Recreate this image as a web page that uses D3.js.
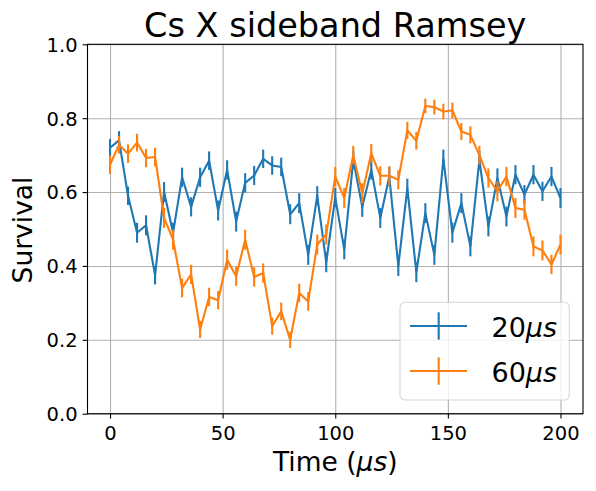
<!DOCTYPE html>
<html>
<head>
<meta charset="utf-8">
<script src="https://cdn.jsdelivr.net/npm/d3@7"></script>
<style>
  body { margin: 0; background: white; }
  text { font-family: "DejaVu Sans", sans-serif; }
</style>
</head>
<body>
<div id="chart"></div>
<script>
// sampling times (us)
let times = [0, 4, 8, 12, 16, 20, 24, 28, 32, 36, 40, 44, 48, 52, 56, 60, 64, 68, 72, 76,
    80, 84, 88, 92, 96, 100, 104, 108, 112, 116, 120, 124, 128, 132, 136, 140, 144, 148,
    152, 156, 160, 164, 168, 172, 176, 180, 184, 188, 192, 196, 200];

let survival_20 = [0.72, 0.74, 0.59, 0.49, 0.51, 0.375, 0.60, 0.49, 0.64, 0.56, 0.64, 0.685,
    0.55, 0.66, 0.52, 0.625, 0.645, 0.69, 0.672, 0.668, 0.54, 0.57, 0.43, 0.59, 0.41, 0.585,
    0.445, 0.687, 0.56, 0.66, 0.53, 0.642, 0.40, 0.61, 0.383, 0.543, 0.43, 0.69, 0.49, 0.57,
    0.453, 0.687, 0.507, 0.638, 0.534, 0.647, 0.593, 0.647, 0.602, 0.642, 0.584];
let error_20 = [0.024, 0.025, 0.025, 0.027, 0.027, 0.025, 0.027, 0.027, 0.026, 0.026, 0.026,
    0.025, 0.027, 0.026, 0.027, 0.026, 0.026, 0.025, 0.025, 0.025, 0.027, 0.027, 0.027, 0.026,
    0.027, 0.026, 0.027, 0.025, 0.027, 0.026, 0.027, 0.026, 0.027, 0.026, 0.027, 0.027, 0.027,
    0.025, 0.027, 0.027, 0.027, 0.025, 0.027, 0.026, 0.027, 0.026, 0.026, 0.026, 0.026, 0.026, 0.027];

let survival_60 = [0.674, 0.728, 0.704, 0.734, 0.692, 0.695, 0.53, 0.471, 0.34, 0.377, 0.228,
    0.316, 0.307, 0.417, 0.372, 0.471, 0.37, 0.381, 0.237, 0.277, 0.20, 0.327, 0.304, 0.458,
    0.485, 0.642, 0.584, 0.70, 0.597, 0.705, 0.644, 0.644, 0.633, 0.767, 0.739, 0.833, 0.83,
    0.818, 0.821, 0.764, 0.755, 0.70, 0.638, 0.602, 0.642, 0.557, 0.552, 0.453, 0.442, 0.404, 0.458];
let error_60 = [0.025, 0.024, 0.025, 0.024, 0.025, 0.025, 0.027, 0.027, 0.025, 0.026, 0.023,
    0.025, 0.025, 0.027, 0.026, 0.027, 0.026, 0.026, 0.023, 0.024, 0.022, 0.025, 0.025, 0.027,
    0.027, 0.026, 0.027, 0.025, 0.027, 0.025, 0.026, 0.026, 0.026, 0.023, 0.024, 0.02, 0.02,
    0.021, 0.021, 0.023, 0.023, 0.025, 0.026, 0.027, 0.026, 0.027, 0.027, 0.027, 0.027, 0.026, 0.027];

let x_ticks = [0, 50, 100, 150, 200];
let y_ticks = [0.0, 0.2, 0.4, 0.6, 0.8, 1.0];
let series_names = ["20", "60"];
let colors = ["#1f77b4", "#ff7f0e"];

function Plot(dimensions = { width: 596, height: 491 }) {
    let area = { left: 87.5, right: 583, top: 44.3, bottom: 413.7 };
    this.dimensions = dimensions;
    this.area = area;
    this.x = d3.scaleLinear().domain([-10, 210]).range([area.left, area.right]);
    this.y = d3.scaleLinear().domain([0, 1]).range([area.bottom, area.top]);
    this.series = [
        { name: series_names[0], values: survival_20, errors: error_20, color: colors[0] },
        { name: series_names[1], values: survival_60, errors: error_60, color: colors[1] }
    ];
}

function render(plot, DOMdiv) {
    let x = plot.x, y = plot.y, area = plot.area;
    let svg = d3.select(DOMdiv).append("svg")
        .attr("width", plot.dimensions.width)
        .attr("height", plot.dimensions.height);

    // grid
    svg.append("g")
        .attr("transform", "translate(0," + area.bottom + ")")
        .call(d3.axisBottom(x).tickValues(x_ticks).tickSize(-(area.bottom - area.top)).tickFormat(""))
        .call(g => g.select(".domain").remove())
        .call(g => g.selectAll("line").attr("stroke", "#b0b0b0").attr("stroke-width", 1.1));
    svg.append("g")
        .attr("transform", "translate(" + area.left + ",0)")
        .call(d3.axisLeft(y).tickValues(y_ticks).tickSize(-(area.right - area.left)).tickFormat(""))
        .call(g => g.select(".domain").remove())
        .call(g => g.selectAll("line").attr("stroke", "#b0b0b0").attr("stroke-width", 1.1));

    // series
    plot.series.forEach(s => {
        let g = svg.append("g");
        g.selectAll()
            .data(times)
            .enter()
            .append("line")
            .attr("x1", t => x(t))
            .attr("x2", t => x(t))
            .attr("y1", (t, i) => y(s.values[i] - s.errors[i]))
            .attr("y2", (t, i) => y(s.values[i] + s.errors[i]))
            .attr("stroke", s.color)
            .attr("stroke-width", 2.1);
        g.append("path")
            .datum(times)
            .attr("d", d3.line().x(t => x(t)).y((t, i) => y(s.values[i])))
            .attr("fill", "none")
            .attr("stroke", s.color)
            .attr("stroke-width", 2.1)
            .attr("stroke-linejoin", "round");
    });

    // axes
    let xAxis = svg.append("g")
        .attr("transform", "translate(0," + area.bottom + ")")
        .call(d3.axisBottom(x).tickValues(x_ticks).tickSize(4.9).tickPadding(5).tickFormat(d3.format("d")));
    let yAxis = svg.append("g")
        .attr("transform", "translate(" + area.left + ",0)")
        .call(d3.axisLeft(y).tickValues(y_ticks).tickSize(4.9).tickPadding(5).tickFormat(d3.format(".1f")));
    [xAxis, yAxis].forEach(a => {
        a.select(".domain").remove();
        a.selectAll("line").attr("stroke", "black").attr("stroke-width", 1.1);
        a.selectAll("text")
            .attr("font-family", "DejaVu Sans")
            .attr("font-size", "19.5px")
            .attr("fill", "black");
    });
    xAxis.selectAll("text").attr("dy", null).attr("y", 26.3);
    yAxis.selectAll("text").attr("dy", "0.35em");

    svg.append("rect")
        .attr("x", area.left)
        .attr("y", area.top)
        .attr("width", area.right - area.left)
        .attr("height", area.bottom - area.top)
        .attr("fill", "none")
        .attr("stroke", "black")
        .attr("stroke-width", 1.1);

    // title and labels
    let cx = (area.left + area.right) / 2;
    svg.append("text")
        .attr("x", cx)
        .attr("y", 36.7)
        .attr("text-anchor", "middle")
        .attr("font-size", "33.5px")
        .text("Cs X sideband Ramsey");

    let xl = svg.append("text")
        .attr("x", cx)
        .attr("y", 470.7)
        .attr("text-anchor", "middle")
        .attr("font-size", "26.5px");
    xl.append("tspan").text("Time (");
    xl.append("tspan").attr("font-style", "italic").text("μs");
    xl.append("tspan").text(")");

    svg.append("text")
        .attr("transform", "translate(32,230) rotate(-90)")
        .attr("text-anchor", "middle")
        .attr("font-size", "26.5px")
        .text("Survival");

    // legend
    let legend = svg.append("g");
    legend.append("rect")
        .attr("x", 400)
        .attr("y", 302.3)
        .attr("width", 169.3)
        .attr("height", 97.7)
        .attr("rx", 5)
        .attr("fill", "white")
        .attr("fill-opacity", 0.8)
        .attr("stroke", "#cccccc")
        .attr("stroke-opacity", 0.8)
        .attr("stroke-width", 1.1);
    let rows = [326, 371];
    plot.series.forEach((s, i) => {
        let cy = rows[i];
        legend.append("line")
            .attr("x1", 410).attr("x2", 467)
            .attr("y1", cy).attr("y2", cy)
            .attr("stroke", s.color).attr("stroke-width", 2.1);
        legend.append("line")
            .attr("x1", 438.7).attr("x2", 438.7)
            .attr("y1", cy - 13.7).attr("y2", cy + 13.7)
            .attr("stroke", s.color).attr("stroke-width", 2.1);
        let t = legend.append("text")
            .attr("x", 491.5)
            .attr("y", cy + 10.5)
            .attr("font-size", "27px");
        t.append("tspan").text(s.name);
        t.append("tspan").attr("font-style", "italic").text("μs");
    });
}

render(new Plot(), "#chart");
</script>
</body>
</html>
